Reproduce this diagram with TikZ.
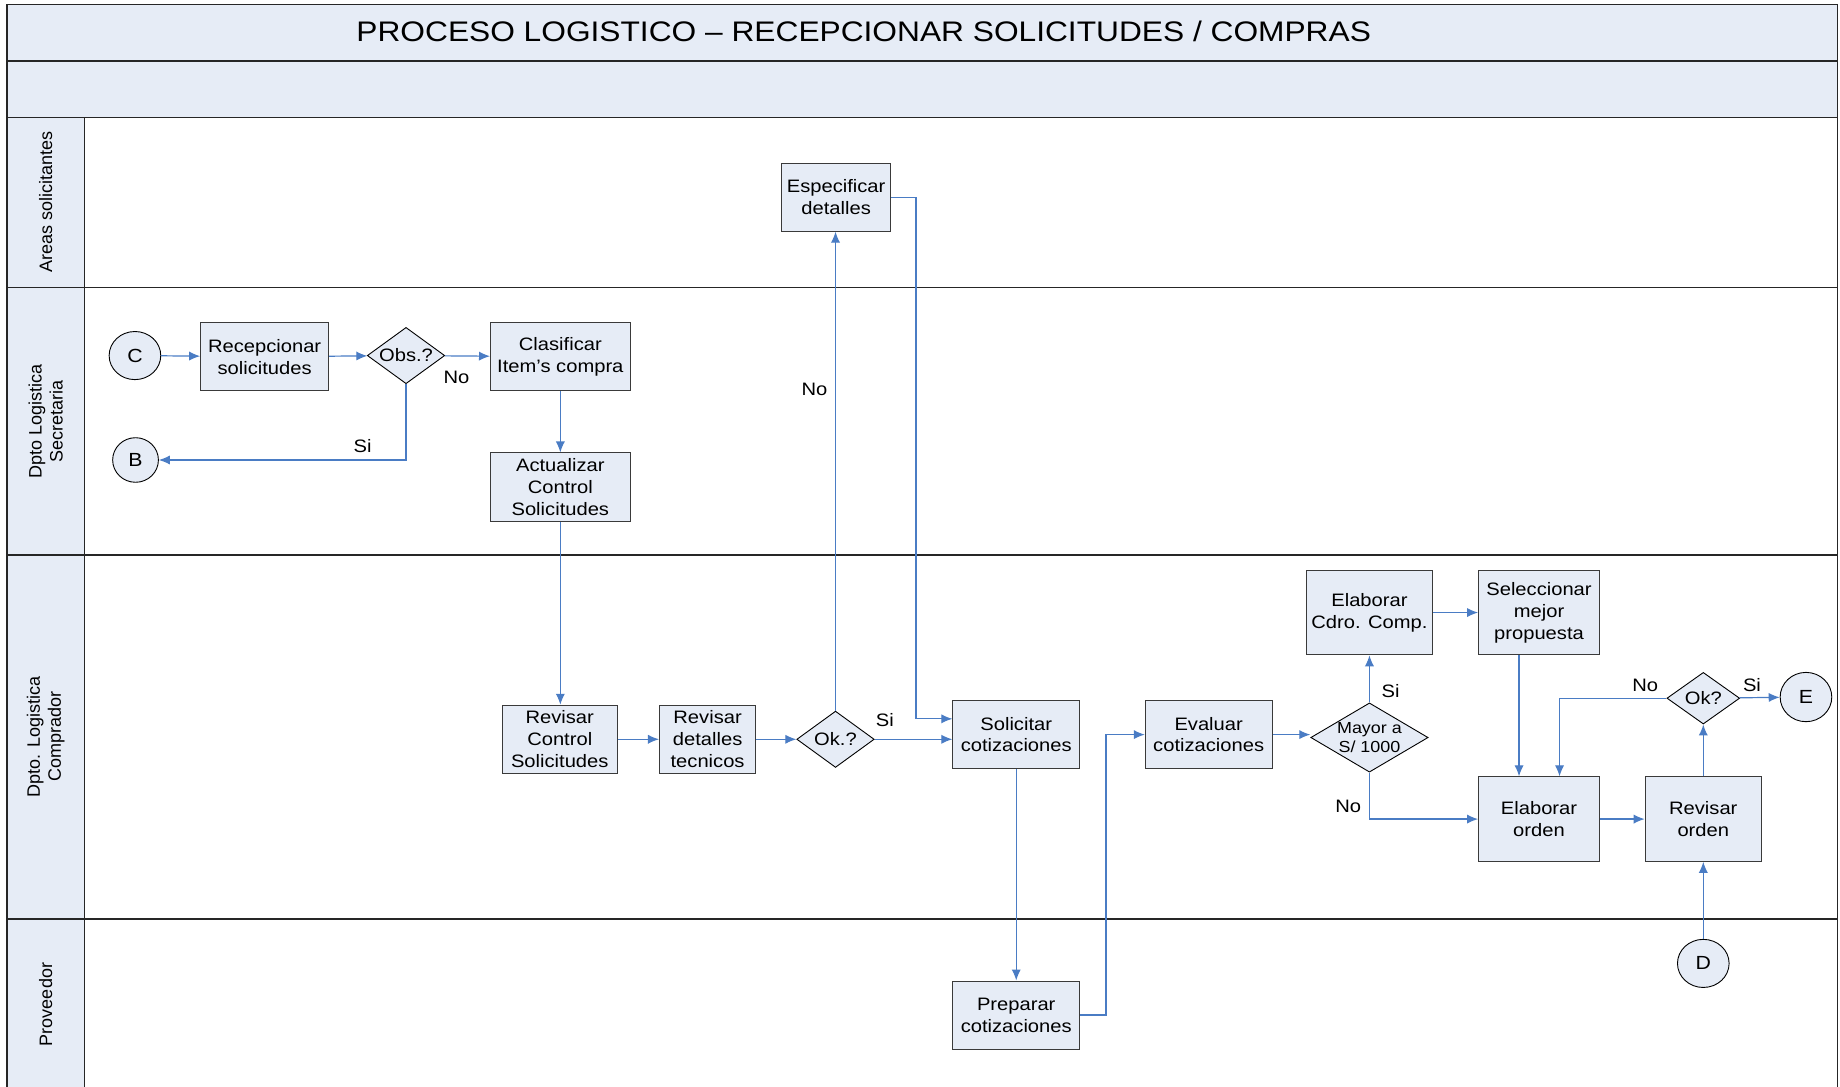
\documentclass[tikz,border=0pt]{standalone}
\usepackage{fontspec}
\setmainfont{Liberation Sans}[FakeStretch=1.12]
\newfontfamily\lanefont{Liberation Sans}
\usetikzlibrary{arrows.meta,shapes.geometric,calc}
\definecolor{boxfill}{HTML}{E6ECF6}
\definecolor{flow}{HTML}{4A7CC4}
\definecolor{edge}{HTML}{3A3A3A}
\newdimen\uu \uu=0.58673pt
\tikzset{
  frame/.style={line width=0.8pt, draw=black!85},
  proc/.style={draw=edge, fill=boxfill, line width=0.5pt, align=center,
    font=\fontsize{9}{10.9}\selectfont, inner sep=1pt},
  dec/.style={diamond, draw=black, fill=boxfill, line width=0.45pt, inner sep=0pt},
  conn/.style={draw=flow, line width=0.6pt, -{Latex[length=5.5pt,width=4.6pt]}},
  flag/.style={font=\fontsize{9}{10.9}\selectfont},
  lane/.style={rotate=90, align=center, font=\lanefont\fontsize{9}{10.5}\selectfont},
  conector/.style={ellipse, draw=black, fill=boxfill, line width=0.45pt, inner sep=0pt,
    font=\fontsize{9.5}{11}\selectfont},
}
\begin{document}
\begin{tikzpicture}[x=0.58673pt,y=-0.58673pt]
\useasboundingbox (0,0) rectangle (1568,926);

% header bands and lane label column
\fill[boxfill] (6,4) rectangle (1566,100);
\fill[boxfill] (6,100) rectangle (72,926);
\draw[frame] (6,926) -- (6,4) -- (1566,4) -- (1566,926);
\foreach \yy in {52,100,245,473,783} \draw[frame] (6,\yy) -- (1566,\yy);
\draw[frame] (72,100) -- (72,926);

\node[font=\fontsize{14.15}{16}\selectfont] (title) at (736,27)
  {PROCESO LOGISTICO -- RECEPCIONAR SOLICITUDES / COMPRAS};

% lane names
\node[lane] (lane1) at (39,172) {Areas solicitantes};
\node[lane] (lane2) at (39,359) {Dpto Logistica\\Secretaria};
\node[lane] (lane3) at (39,628) {Dpto. Logistica\\Comprador};
\node[lane] (lane4) at (39,856) {Proveedor};

% Areas solicitantes
\node[proc, minimum width=93*\uu, minimum height=58*\uu] (esp) at (712.5,168) {Especificar\\detalles};

% Secretaria
\node[conector, minimum width=44*\uu, minimum height=41*\uu] (C) at (115,303) {C};
\node[proc, minimum width=109*\uu, minimum height=58*\uu] (rec) at (225.5,304) {Recepcionar\\solicitudes};
\node[dec, minimum width=66*\uu, minimum height=48*\uu,
  label={[flag]center:Obs.?}] (obs) at (346,303) {};
\node[proc, minimum width=119*\uu, minimum height=58*\uu] (cla) at (477.5,304) {Clasificar\\Item’s compra};
\node[conector, minimum width=39*\uu, minimum height=38*\uu] (B) at (115.5,392) {B};
\node[proc, minimum width=119*\uu, minimum height=58*\uu] (act) at (477.5,415) {Actualizar\\Control\\Solicitudes};

% Comprador
\node[proc, minimum width=98*\uu, minimum height=58*\uu] (rcs) at (477,630) {Revisar\\Control\\Solicitudes};
\node[proc, minimum width=82*\uu, minimum height=58*\uu] (rdt) at (603,630) {Revisar\\detalles\\tecnicos};
\node[dec, minimum width=66*\uu, minimum height=48*\uu,
  label={[flag]center:Ok.?}] (ok1) at (712,630) {};
\node[proc, minimum width=108*\uu, minimum height=58*\uu] (sol) at (866,626) {Solicitar\\cotizaciones};
\node[proc, minimum width=108*\uu, minimum height=58*\uu] (eva) at (1030,626) {Evaluar\\cotizaciones};
\node[dec, minimum width=100*\uu, minimum height=59*\uu,
  label={[font=\fontsize{8}{9.4}\selectfont, align=center]center:Mayor a\\S/ 1000}] (may) at (1167,628.5) {};
\node[proc, minimum width=108*\uu, minimum height=72*\uu] (ecc) at (1167,522) {Elaborar\\Cdro. Comp.};
\node[proc, minimum width=103*\uu, minimum height=72*\uu] (sel) at (1311.5,522) {Seleccionar\\mejor\\propuesta};
\node[proc, minimum width=103*\uu, minimum height=72*\uu] (eor) at (1311.5,698) {Elaborar\\orden};
\node[proc, minimum width=99*\uu, minimum height=72*\uu] (ror) at (1451.5,698) {Revisar\\orden};
\node[dec, minimum width=62*\uu, minimum height=44*\uu,
  label={[flag]center:Ok?}] (ok2) at (1451.5,595) {};
\node[conector, minimum width=44*\uu, minimum height=42*\uu] (E) at (1539,594) {E};

% Proveedor
\node[proc, minimum width=108*\uu, minimum height=58*\uu] (pre) at (866,865) {Preparar\\cotizaciones};
\node[conector, minimum width=44*\uu, minimum height=41*\uu] (D) at (1451.5,821) {D};

% flow
\draw[conn] (C) -- (rec);
\draw[conn] (rec) -- (obs);
\draw[conn] (obs) -- (cla);
\draw[conn] (obs.south) |- (B);
\draw[conn] (cla) -- (act);
\draw[conn] (act.south) -- (act.south |- rcs.north);
\draw[conn] (rcs) -- (rdt);
\draw[conn] (rdt) -- (ok1);
\draw[conn] (ok1.north) -- (ok1.north |- esp.south);
\draw[conn] (ok1.east) -- (ok1.east -| sol.west);
\draw[conn] (esp.east) -| ($(sol.north west)+(-31,16)$) -- ($(sol.north west)+(0,16)$);
\draw[conn] (sol) -- (pre);
\draw[conn] (pre.east) -- ++(22,0) |- (eva.west);
\draw[conn] (eva.east) -- (eva.east -| may.west);
\draw[conn] (may.north) -- (ecc.south);
\draw[conn] (may.south) |- (eor.west);
\draw[conn] (ecc) -- (sel);
\draw[conn] ($(sel.south)+(-17,0)$) -- ($(eor.north)+(-17,0)$);
\draw[conn] (eor) -- (ror);
\draw[conn] (ror) -- (ok2);
\draw[conn] (ok2.west) -| ($(eor.north)+(17.5,0)$);
\draw[conn] (ok2) -- (E);
\draw[conn] (D) -- (ror);

% branch labels
\node[flag] (n1) at (389,322) {No};
\node[flag] (s1) at (309,380) {Si};
\node[flag] (n2) at (694,332) {No};
\node[flag] (s2) at (754,614) {Si};
\node[flag] (s3) at (1185,589) {Si};
\node[flag] (n3) at (1149,687) {No};
\node[flag] (n4) at (1402,584) {No};
\node[flag] (s4) at (1493,584) {Si};
\end{tikzpicture}
\end{document}
